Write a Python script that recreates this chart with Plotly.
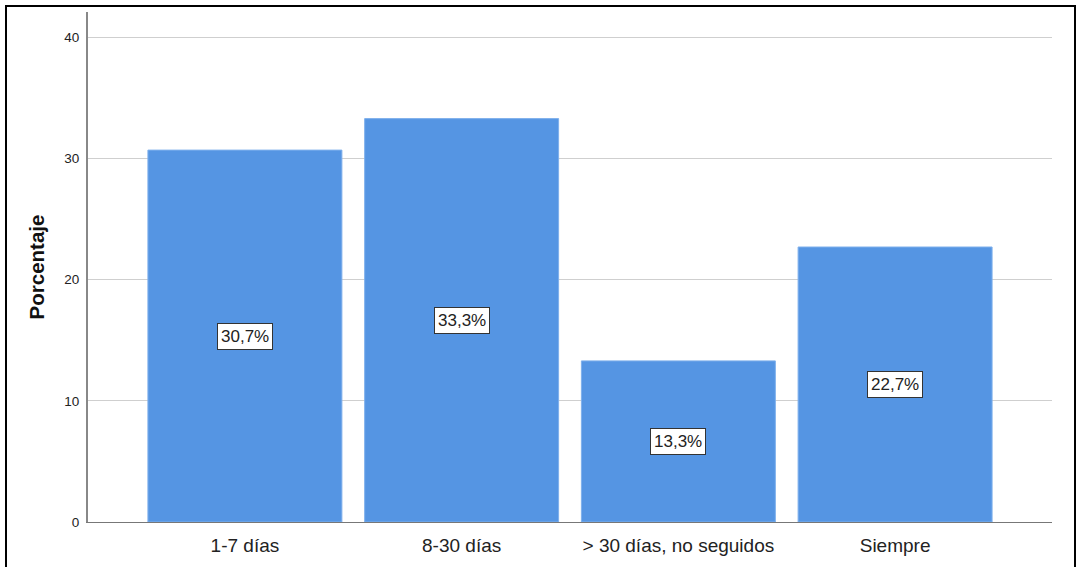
import plotly.graph_objects as go

categories = ["1-7 días", "8-30 días", "> 30 días, no seguidos", "Siempre"]
values = [30.7, 33.3, 13.3, 22.7]
y_ticks = [0, 10, 20, 30, 40]

W, H = 1076, 567
ml, mr, mt, mb = 88, 24, 12, 45
pw, ph = W - ml - mr, H - mt - mb

fig = go.Figure()
fig.add_trace(go.Bar(
    x=categories, y=values,
    marker=dict(color="#5595E3", line=dict(color="#7FB0EC", width=1)),
    hoverinfo="skip",
))

for c, v in zip(categories, values):
    fig.add_annotation(
        x=c, y=v / 2, xref="x", yref="y",
        text=(f"{v:.1f}%").replace(".", ","),
        showarrow=False,
        font=dict(family="Liberation Sans, Arial", size=17, color="#222"),
        bgcolor="white", bordercolor="#333", borderwidth=1, borderpad=3,
    )

# outer border
fig.add_shape(type="rect", xref="paper", yref="paper",
              x0=(6 - ml) / pw, x1=(1075 - ml) / pw,
              y0=-0.2, y1=1 + (mt - 6) / ph,
              line=dict(color="black", width=2), fillcolor="rgba(0,0,0,0)",
              layer="above")

fig.update_layout(
    width=W, height=H,
    margin=dict(l=ml, r=mr, t=mt, b=mb),
    paper_bgcolor="white", plot_bgcolor="white",
    bargap=0.105, showlegend=False,
    font=dict(family="Liberation Sans, Arial", color="#222"),
)
fig.update_xaxes(
    range=[-0.724, 3.724], showgrid=False,
    showline=True, linecolor="#777", linewidth=1,
    ticks="outside", ticklen=6, tickcolor="rgba(0,0,0,0)",
    tickfont=dict(size=19, color="#222"),
)
fig.update_yaxes(
    range=[0, 42.1], tickvals=y_ticks,
    showgrid=True, gridcolor="#CFCFCF", gridwidth=1,
    showline=True, linecolor="#888", linewidth=2,
    ticks="outside", ticklen=4, tickcolor="rgba(0,0,0,0)",
    tickfont=dict(size=13.5, color="#222"),
    zeroline=False,
    title=dict(text="<b>Porcentaje</b>", font=dict(size=20.5, color="#111"), standoff=14),
)

fig.write_html("out.html")
